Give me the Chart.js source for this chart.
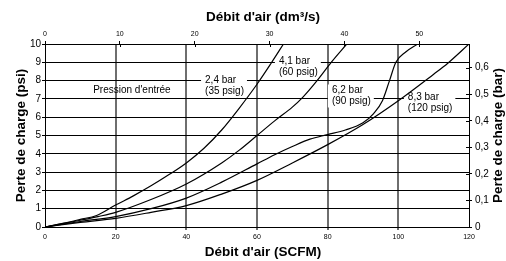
<!DOCTYPE html>
<html>
<head>
<meta charset="utf-8">
<script src="https://cdn.jsdelivr.net/npm/chart.js@4"></script>
<style>
body { margin: 0; background: #fff; }
#wrap { width: 506px; height: 261px; }
</style>
</head>
<body>
<div id="wrap"><canvas id="myChart" width="506" height="261"></canvas></div>
<script>
// Débit d'air (SCFM) et perte de charge (psi), une paire par pression d'entrée
var flow35 = [0, 5, 10, 14.6, 20, 25, 30, 35, 40, 45, 50, 55, 60, 64, 67.5];
var loss35 = [0, 0.2, 0.42, 0.63, 1.2, 1.7, 2.25, 2.85, 3.5, 4.3, 5.3, 6.5, 7.8, 8.95, 10];

var flow60 = [0, 5, 10, 15, 20, 30, 40, 50, 55, 60, 65, 70, 73, 77, 81, 85.4];
var loss60 = [0, 0.18, 0.37, 0.57, 0.8, 1.5, 2.35, 3.5, 4.2, 5.0, 5.8, 6.55, 7.1, 8.0, 9.0, 10];

var flow90 = [0, 10, 20, 30, 40, 50, 60, 65, 70, 75, 80, 85, 90, 93, 95.5, 97.5, 99.3, 102, 105.5];
var loss90 = [0, 0.3, 0.57, 1.0, 1.58, 2.45, 3.45, 3.95, 4.4, 4.8, 5.05, 5.3, 5.7, 6.2, 6.9, 8.0, 9.0, 9.55, 10];

var flow120 = [0, 10, 20, 30, 40, 50, 60, 70, 80, 90, 100, 110, 114, 120];
var loss120 = [0, 0.25, 0.47, 0.8, 1.17, 1.8, 2.55, 3.5, 4.5, 5.6, 6.9, 8.35, 8.95, 10];

// textes des courbes
var label35 = ["2,4 bar", "(35 psig)"];
var label60 = ["4,1 bar", "(60 psig)"];
var label90 = ["6,2 bar", "(90 psig)"];
var label120 = ["8,3 bar", "(120 psig)"];
var inletText = "Pression d'entrée";

// conversions pour les axes secondaires
var SCFM_PER_DM3S = 2.119;
var PSI_PER_BAR = 14.5038;

var FONT = "'Liberation Sans', Arial, sans-serif";

function toPoints(xs, ys) {
    return xs.map(function (x, i) { return {x: x, y: ys[i]}; });
}

function curve(xs, ys) {
    return {
        data: toPoints(xs, ys),
        borderColor: '#000',
        borderWidth: 1.2,
        pointRadius: 0,
        fill: false,
        cubicInterpolationMode: 'monotone'
    };
}

// positions des étiquettes (en unités des axes)
var notes = [
    {lines: label35, x: 45.3, y: 8.0},
    {lines: label60, x: 66.2, y: 9.04},
    {lines: label90, x: 81.2, y: 7.46},
    {lines: label120, x: 102.7, y: 7.09}
];

var notesPlugin = {
    id: 'notes',
    beforeDatasetsDraw: function (chart) {
        var ctx = chart.ctx, sx = chart.scales.x, sy = chart.scales.y;
        ctx.save();
        ctx.font = '10px ' + FONT;
        ctx.textBaseline = 'middle';
        notes.forEach(function (n) {
            var px = sx.getPixelForValue(n.x), py = sy.getPixelForValue(n.y);
            var w = 0;
            n.lines.forEach(function (t) { w = Math.max(w, ctx.measureText(t).width); });
            ctx.fillStyle = '#fff';
            ctx.fillRect(px - 4, py - 6, w + 7, 11 * (n.lines.length - 1) + 12);
            ctx.fillStyle = '#000';
            ctx.textAlign = 'left';
            n.lines.forEach(function (t, i) { ctx.fillText(t, px, py + i * 11); });
        });
        ctx.textAlign = 'center';
        ctx.fillText(inletText, sx.getPixelForValue(24.6), sy.getPixelForValue(7.46));
        ctx.restore();
    },
    afterDraw: function (chart) {
        var ctx = chart.ctx, a = chart.chartArea;
        ctx.save();
        // petits traits vers l'intérieur des axes secondaires
        ctx.strokeStyle = '#000';
        ctx.lineWidth = 1;
        chart.scales.x2.ticks.forEach(function (t) {
            var p = Math.round(chart.scales.x2.getPixelForValue(t.value)) + 0.5;
            ctx.beginPath(); ctx.moveTo(p, a.top); ctx.lineTo(p, a.top + 3); ctx.stroke();
        });
        chart.scales.y2.ticks.forEach(function (t) {
            var p = Math.round(chart.scales.y2.getPixelForValue(t.value)) + 0.5;
            ctx.beginPath(); ctx.moveTo(a.right, p); ctx.lineTo(a.right - 3, p); ctx.stroke();
        });
        // titres des axes
        ctx.fillStyle = '#000';
        ctx.font = 'bold 13.5px ' + FONT;
        ctx.textAlign = 'center';
        ctx.textBaseline = 'middle';
        var cx = (a.left + a.right) / 2 + 6, cy = (a.top + a.bottom) / 2;
        ctx.fillText("Débit d'air (dm³/s)", cx, 17);
        ctx.fillText("Débit d'air (SCFM)", cx, 252);
        ctx.translate(21, cy); ctx.rotate(-Math.PI / 2);
        ctx.fillText("Perte de charge (psi)", 0, 0);
        ctx.setTransform(1, 0, 0, 1, 0, 0);
        ctx.translate(498, cy); ctx.rotate(-Math.PI / 2);
        ctx.fillText("Perte de charge (bar)", 0, 0);
        ctx.restore();
    }
};

function fixSize(prop, size) {
    return function (s) {
        s[prop] = size;
        s.paddingLeft = s.paddingRight = s.paddingTop = s.paddingBottom = 0;
    };
}

var tickFontSmall = {family: FONT, size: 7};
var tickFont = {family: FONT, size: 10};

var myChart = new Chart('myChart', {
    type: 'line',
    data: {
        datasets: [curve(flow35, loss35), curve(flow60, loss60), curve(flow90, loss90), curve(flow120, loss120)]
    },
    options: {
        responsive: false,
        animation: false,
        devicePixelRatio: 1,
        layout: {padding: 0},
        plugins: {legend: {display: false}, tooltip: {enabled: false}},
        scales: {
            x: {
                type: 'linear', position: 'bottom', min: 0, max: 120,
                ticks: {stepSize: 20, font: tickFontSmall, color: '#000', padding: 3, maxRotation: 0},
                grid: {
                    color: function (c) { return (c.tick && (c.tick.value === 0 || c.tick.value === 120)) ? 'rgba(0,0,0,0)' : '#6e6e6e'; },
                    lineWidth: 2, tickLength: 3
                },
                border: {color: '#000', width: 1},
                afterFit: fixSize('height', 34)
            },
            x2: {
                type: 'linear', position: 'top', min: 0, max: 120 / SCFM_PER_DM3S,
                ticks: {stepSize: 10, includeBounds: false, font: tickFontSmall, color: '#000', padding: 3, maxRotation: 0},
                grid: {drawOnChartArea: false, color: '#000', lineWidth: 1, tickLength: 3},
                border: {color: '#000', width: 1},
                afterFit: fixSize('height', 44)
            },
            y: {
                type: 'linear', position: 'left', min: 0, max: 10,
                ticks: {stepSize: 1, font: tickFont, color: '#000', padding: 1},
                grid: {color: '#000', lineWidth: 1, tickLength: 3},
                border: {color: '#000', width: 1},
                afterFit: fixSize('width', 45)
            },
            y2: {
                type: 'linear', position: 'right', min: 0, max: 10 / PSI_PER_BAR,
                ticks: {
                    stepSize: 0.1, includeBounds: false, font: tickFont, color: '#000', padding: 3,
                    callback: function (v) { return v === 0 ? '0' : v.toFixed(1).replace('.', ','); }
                },
                grid: {drawOnChartArea: false, color: '#000', lineWidth: 1, tickLength: 3},
                border: {color: '#000', width: 1},
                afterFit: fixSize('width', 37)
            }
        }
    },
    plugins: [notesPlugin]
});
</script>
</body>
</html>
